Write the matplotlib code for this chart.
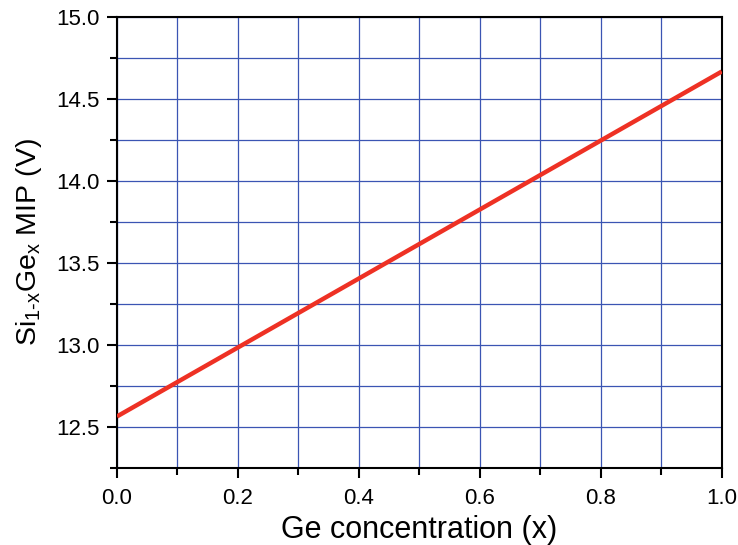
import matplotlib
matplotlib.use("Agg")
import matplotlib.pyplot as plt
from matplotlib.ticker import MultipleLocator

plt.rcParams['font.family'] = ['Liberation Sans', 'DejaVu Sans']
plt.rcParams['mathtext.fontset'] = 'custom'
plt.rcParams['mathtext.rm'] = 'Liberation Sans'
plt.rcParams['mathtext.it'] = 'Liberation Sans'

# Mean inner potential of Si(1-x)Ge(x) vs Ge fraction (linear)
ge_fraction = [0.0, 1.0]
mip_volts = [12.565, 14.667]

x_ticks = [0.0, 0.2, 0.4, 0.6, 0.8, 1.0]
y_ticks = [12.5, 13.0, 13.5, 14.0, 14.5, 15.0]

fig = plt.figure(figsize=(7.38, 5.45), dpi=100)
ax = fig.add_axes([0.1585, 0.141, 0.8195, 0.828])

ax.plot(ge_fraction, mip_volts, color='#ee3124', lw=3.2, solid_capstyle='butt', zorder=3)

ax.set_xlim(0, 1)
ax.set_ylim(12.25, 15.0)
ax.set_xticks(x_ticks)
ax.set_xticklabels([f"{v:.1f}" for v in x_ticks])
ax.set_yticks(y_ticks)
ax.set_yticklabels([f"{v:.1f}" for v in y_ticks])
ax.xaxis.set_minor_locator(MultipleLocator(0.1))
ax.yaxis.set_minor_locator(MultipleLocator(0.25))

ax.grid(True, which='both', color='#3b55b3', lw=0.9, zorder=1)

for s in ax.spines.values():
    s.set_linewidth(1.5)
    s.set_color('black')

ax.tick_params(which='major', direction='out', length=7.5, width=1.5, labelsize=16)
ax.tick_params(which='minor', direction='out', length=5, width=1.5)
ax.tick_params(axis='x', which='major', pad=7)
ax.tick_params(axis='y', which='major', pad=5)
ax.tick_params(which='both', top=False, right=False)

ax.set_xlabel("Ge concentration (x)", fontsize=22, labelpad=4)
ax.set_ylabel(r"Si$_{\mathregular{1\text{-}x}}$Ge$_{\mathregular{x}}$ MIP (V)", fontsize=20.5, labelpad=9)

fig.savefig("out.png", dpi=100)
